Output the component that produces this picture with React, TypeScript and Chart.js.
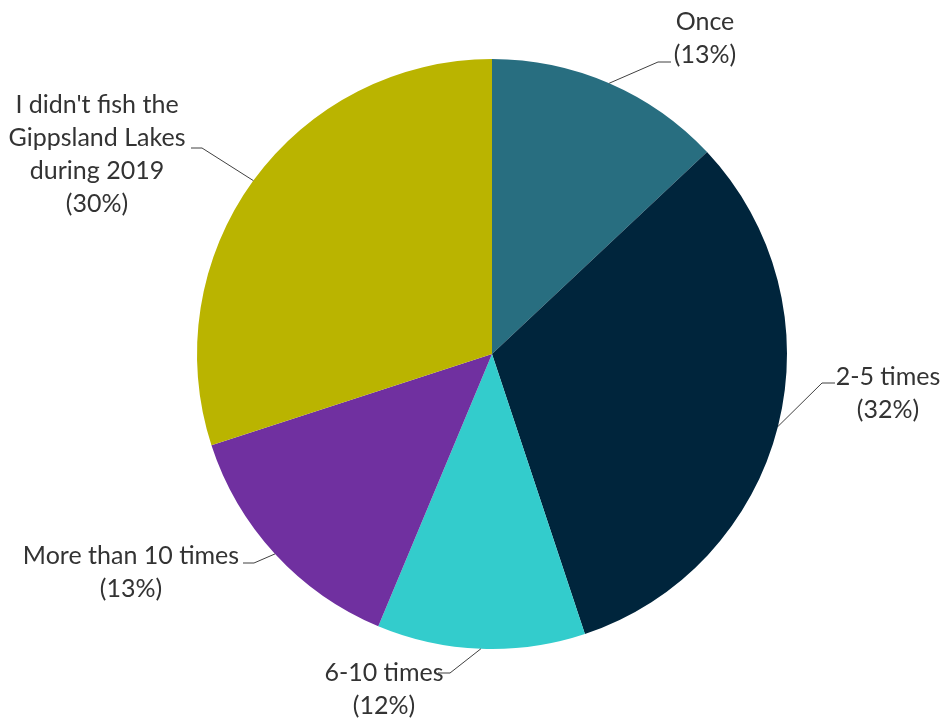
import React, { useEffect, useRef } from "react";
import { Chart, registerables } from "chart.js";

Chart.register(...registerables);

const categories = [
  "Once",
  "2-5 times",
  "6-10 times",
  "More than 10 times",
  "I didn't fish the Gippsland Lakes during 2019",
];
const values = [13.0, 31.9, 11.4, 13.7, 30.0];
const percentLabels = ["13%", "32%", "12%", "13%", "30%"];
const labelLines = [
  ["Once"],
  ["2-5 times"],
  ["6-10 times"],
  ["More than 10 times"],
  ["I didn't fish the", "Gippsland Lakes", "during 2019"],
];
const colors = ["#286E80", "#00253C", "#33CCCC", "#7030A0", "#BAB400"];

// label layout: text centre x, first line centre y, elbow point, horizontal end
const labelLayout = [
  { cx: 705, y0: 22, ex: 658, ey: 62, hx: 671 },
  { cx: 888, y0: 377, ex: 822, ey: 383, hx: 835 },
  { cx: 384, y0: 673, ex: 450, ey: 673, hx: 438 },
  { cx: 131, y0: 556, ex: 254, ey: 563, hx: 243 },
  { cx: 97, y0: 105, ex: 202, ey: 148, hx: 191 },
];

const FONT = '25px "Lato", "Open Sans", sans-serif';
const LINE_H = 33;

const labelPlugin = {
  id: "pieLabels",
  afterDatasetsDraw(chart: any) {
    const ctx = chart.ctx;
    const meta = chart.getDatasetMeta(0);
    ctx.save();
    meta.data.forEach((arc: any, i: number) => {
      const p = arc.getProps(["x", "y", "startAngle", "endAngle", "outerRadius"], true);
      const mid = (p.startAngle + p.endAngle) / 2;
      const sx = p.x + Math.cos(mid) * p.outerRadius;
      const sy = p.y + Math.sin(mid) * p.outerRadius;
      const L = labelLayout[i];
      ctx.strokeStyle = "#404040";
      ctx.lineWidth = 1;
      ctx.beginPath();
      ctx.moveTo(sx, sy);
      ctx.lineTo(L.ex, L.ey);
      ctx.lineTo(L.hx, L.ey);
      ctx.stroke();
      const lines = [...labelLines[i], "(" + percentLabels[i] + ")"];
      ctx.fillStyle = "#333333";
      ctx.font = FONT;
      ctx.textAlign = "center";
      ctx.textBaseline = "middle";
      lines.forEach((t, k) => ctx.fillText(t, L.cx, L.y0 + k * LINE_H));
    });
    ctx.restore();
  },
};

export default function App() {
  const ref = useRef<HTMLCanvasElement>(null);
  useEffect(() => {
    if (!ref.current) return;
    const chart = new Chart(ref.current, {
      type: "pie",
      data: {
        labels: categories,
        datasets: [
          {
            data: values,
            backgroundColor: colors,
            borderWidth: 0,
          },
        ],
      },
      options: {
        animation: false,
        responsive: false,
        maintainAspectRatio: false,
        layout: { padding: { top: 59, bottom: 70, left: 197, right: 154 } },
        plugins: {
          legend: { display: false },
          tooltip: { enabled: false },
        },
      },
      plugins: [labelPlugin],
    });
    return () => chart.destroy();
  }, []);
  return (
    <div style={{ position: "fixed", left: 0, top: 0, width: 941, height: 719, background: "#fff" }}>
      <canvas ref={ref} width={941} height={719} style={{ width: 941, height: 719 }} />
    </div>
  );
}
